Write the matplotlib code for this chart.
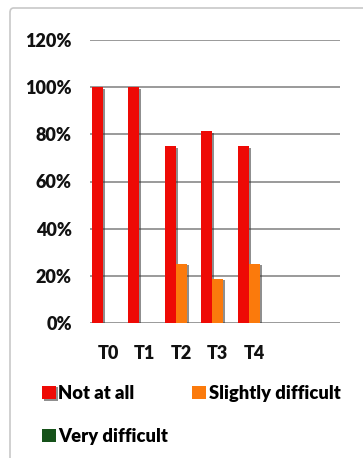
import matplotlib
matplotlib.use("Agg")
import matplotlib.pyplot as plt
import matplotlib.patheffects as pe
from matplotlib.patches import FancyBboxPatch
import numpy as np

categories = ["T0", "T1", "T2", "T3", "T4"]
not_at_all = [100, 100, 75, 81.25, 75]
slightly = [0, 0, 25, 18.75, 25]
very = [0, 0, 0, 0, 0]
y_ticks = [0, 20, 40, 60, 80, 100, 120]

series = [
    ("Not at all", not_at_all, "#ee0a05"),
    ("Slightly difficult", slightly, "#fb7a0c"),
    ("Very difficult", very, "#16521a"),
]

plt.rcParams["font.family"] = ["Lato", "DejaVu Sans"]
plt.rcParams["font.weight"] = "heavy"

fig = plt.figure(figsize=(3.63, 4.58), dpi=100)

# outer frame of the chart area (runs off the right and bottom edges)
frame = FancyBboxPatch((10 / 363, -0.05), 1.1, 1 - 8 / 458 + 0.05,
                       boxstyle="round,pad=0,rounding_size=0.01",
                       transform=fig.transFigure, facecolor="white",
                       edgecolor="#c8c8c8", linewidth=1.2, zorder=-5)
fig.patches.append(frame)

ax = fig.add_axes([90 / 363, 1 - 323 / 458, 250 / 363, (323 - 40) / 458])
ax.set_facecolor("none")
ax.set_zorder(2)

x = np.arange(len(categories))
w = 0.3
shadow = [pe.SimplePatchShadow(offset=(1.5, -1), shadow_rgbFace="#333333", alpha=0.55), pe.Normal()]
handles = []
for i, (name, vals, col) in enumerate(series):
    b = ax.bar(x + (i - 1) * w, vals, width=w, color=col, label=name, zorder=3)
    for r in b:
        if r.get_height() > 0:
            r.set_path_effects(shadow)
    handles.append(b)

ax.set_ylim(0, 120)
ax.set_xlim(-0.5, 6.35)
ax.set_yticks(y_ticks)
ax.set_yticklabels([f"{t}%" for t in y_ticks])
ax.set_xticks(x)
ax.set_xticklabels(categories)
ax.tick_params(axis="both", length=0, labelsize=13, colors="#111111")
ax.tick_params(axis="y", pad=13)
ax.tick_params(axis="x", pad=16)
ax.grid(axis="y", color="#9a9a9a", linewidth=1.4, zorder=0)
for s in ["top", "right", "left", "bottom"]:
    ax.spines[s].set_visible(False)

# ncol=2 fills by column, so order handles to read row by row
order = [0, 2, 1]
fig.legend(handles=[handles[k] for k in order], labels=[series[k][0] for k in order],
           ncol=2, loc="upper left", bbox_to_anchor=(42 / 363, 1 - 385 / 458),
           frameon=False, fontsize=13.2, handlelength=0.75, handleheight=0.75,
           handletextpad=0.15, columnspacing=1.3, labelspacing=1.4,
           borderpad=0, borderaxespad=0)

fig.savefig("out.png", dpi=100)
